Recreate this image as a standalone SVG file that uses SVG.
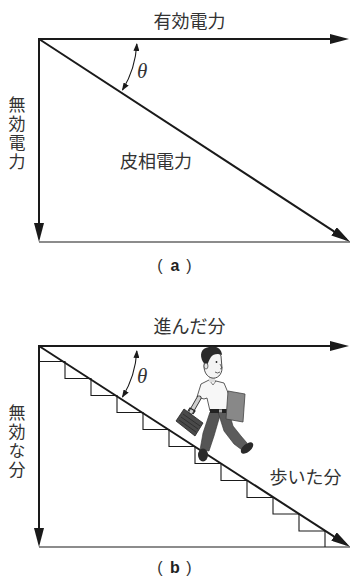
<svg xmlns="http://www.w3.org/2000/svg" width="351" height="577" viewBox="0 0 351 577">
  <style>
    .ln { stroke: #1a1a1a; stroke-width: 2; fill: none; }
    .thin { stroke: #1a1a1a; stroke-width: 1.1; fill: none; }
    .arc { stroke: #1a1a1a; stroke-width: 1.1; fill: none; }
    .jp { font-family: "Noto Sans CJK JP", "Noto Sans", sans-serif; font-size: 18px; fill: #333; }
    .jpv { font-family: "Noto Sans CJK JP", "Noto Sans", sans-serif; font-size: 17px; fill: #333; writing-mode: vertical-rl; letter-spacing: 2px; }
    .th { font-family: "Liberation Serif", serif; font-style: italic; font-size: 21px; fill: #333; }
    .par { font-family: "Liberation Sans", sans-serif; font-size: 16px; fill: #333; }
    .capb { font-family: "Liberation Sans", sans-serif; font-weight: bold; font-size: 16px; fill: #222; }
  </style>
  <defs>
    <marker id="ah" markerUnits="userSpaceOnUse" markerWidth="20" markerHeight="10" refX="15" refY="5" orient="auto">
      <path d="M0,0 L19,5 L0,10 Z" fill="#1a1a1a"/>
    </marker>
    <marker id="ahs" markerUnits="userSpaceOnUse" markerWidth="9" markerHeight="6" refX="7" refY="3" orient="auto-start-reverse">
      <path d="M0,0 L8,3 L0,6 Z" fill="#1a1a1a"/>
    </marker>
  </defs>

  <!-- panel (a): power triangle -->
  <g id="panel-a">
    <g id="a-connectors">
      <line class="ln" x1="39" y1="39" x2="345" y2="39" marker-end="url(#ah)"/>
      <line class="ln" x1="39" y1="38" x2="39" y2="238" marker-end="url(#ah)"/>
      <line class="ln" x1="39" y1="39" x2="346.6" y2="239.6" marker-end="url(#ah)"/>
      <line class="thin" x1="39" y1="242" x2="350" y2="242"/>
      <path class="arc" d="M136.8,44 A98,98 0 0 1 122.5,90" marker-start="url(#ahs)" marker-end="url(#ahs)"/>
    </g>
    <g id="a-active"><text class="jp" x="189.5" y="28" text-anchor="middle">有効電力</text></g>
    <g id="a-reactive"><text class="jpv" x="17" y="96">無効電力</text></g>
    <g id="a-apparent"><text class="jp" x="156" y="168" text-anchor="middle">皮相電力</text></g>
    <g id="a-theta"><text class="th" x="137" y="78">θ</text></g>
    <g id="a-caption">
      <text class="par" x="160" y="271" text-anchor="middle">(</text>
      <text class="capb" x="175" y="271" text-anchor="middle">a</text>
      <text class="par" x="189" y="271" text-anchor="middle">)</text>
    </g>
  </g>

  <!-- panel (b): walking down a staircase -->
  <g id="panel-b">
    <g id="stairs">
      <path class="thin" d="M39,361.5 H65 V378.5 H91 V395.5 H117 V412.5 H143 V429.5 H169 V446.5 H195 V463.5 H221 V480.5 H247 V497.5 H273 V514 H299 V531 H325 V547"/>
    </g>
    <g id="b-connectors">
      <line class="ln" x1="39" y1="346" x2="345" y2="346" marker-end="url(#ah)"/>
      <line class="ln" x1="39" y1="345" x2="39" y2="543" marker-end="url(#ah)"/>
      <line class="ln" x1="39" y1="346" x2="346.6" y2="544.6" marker-end="url(#ah)"/>
      <line class="thin" x1="39" y1="547" x2="350" y2="547"/>
      <path class="arc" d="M136.8,351 A98,98 0 0 1 122.5,397" marker-start="url(#ahs)" marker-end="url(#ahs)"/>
    </g>

    <!-- walking man -->
    <g id="walker">
      <!-- back leg -->
      <path d="M210,412 L221,412 L214,436 L209,451 L200,450 L203,433 Z" fill="#555" stroke="#333" stroke-width="0.6"/>
      <ellipse cx="203" cy="455" rx="5" ry="6.5" fill="#2a2a2a"/>
      <!-- front leg -->
      <path d="M218,412 L229,412 L233,426 L241,436 L247,443 L242,450 L234,444 L224,431 Z" fill="#5c5c5c" stroke="#333" stroke-width="0.6"/>
      <ellipse cx="247" cy="448" rx="7.5" ry="4" transform="rotate(-40 247 448)" fill="#2a2a2a"/>
      <!-- shirt -->
      <path d="M201,384 L209,380 L216,381 L224,383 L229,395 L229,411 L210,411 L207,398 L204,399 L197,397 Z" fill="#f7f7f7" stroke="#333" stroke-width="0.8"/>
      <path d="M210,381 L213,385 L216,381" fill="none" stroke="#333" stroke-width="0.6"/>
      <!-- belt -->
      <path d="M210,409 L229,409 L229,413 L210,413 Z" fill="#222"/>
      <rect x="219" y="409.5" width="3" height="3" fill="#aaa"/>
      <!-- arm with briefcase -->
      <path d="M199,398 L191,412" stroke="#333" stroke-width="5" stroke-linecap="round"/>
      <path d="M199,398 L191,412" stroke="#cfcfcf" stroke-width="3.4" stroke-linecap="round"/>
      <path d="M176,421 L184,409 L203,423 L195,436 Z" fill="#4a4a4a" stroke="#222" stroke-width="0.8"/>
      <path d="M179,420 L196,432 M181,417 L198,429 M183,414 L200,426" stroke="#2a2a2a" stroke-width="0.8"/>
      <path d="M188,411 L190,408 L195,411 L193,414" fill="none" stroke="#222" stroke-width="1.2"/>
      <!-- folder under the other arm -->
      <path d="M228,391 L245,394 L243,422 L226,419 Z" fill="#888" stroke="#444" stroke-width="0.8"/>
      <!-- head -->
      <rect x="209" y="374" width="6" height="8" fill="#ddd"/>
      <path d="M205,356 C205,350 219,349 221,356 L222,368 C222,375 217,379 212,378 C207,377 204,372 204,366 Z" fill="#f4f4f4" stroke="#222" stroke-width="0.8"/>
      <path d="M203,362 C199,355 201,348 209,347 C215,345 222,348 222,355 C218,353 213,354 211,357 C209,360 208,363 207,366 Z" fill="#2a2a2a"/>
      <ellipse cx="206" cy="366" rx="2" ry="3" fill="#e6e6e6" stroke="#222" stroke-width="0.6"/>
      <circle cx="216.5" cy="362" r="0.9" fill="#222"/>
      <path d="M220,364 L222,368 L220,369" fill="none" stroke="#222" stroke-width="0.6"/>
      <path d="M215,372 Q217.5,374 220,372" fill="none" stroke="#222" stroke-width="0.7"/>
    </g>

    <g id="b-forward"><text class="jp" x="189.5" y="333" text-anchor="middle">進んだ分</text></g>
    <g id="b-wasted"><text class="jpv" x="17" y="404">無効な分</text></g>
    <g id="b-walked"><text class="jp" x="305.5" y="484" text-anchor="middle">歩いた分</text></g>
    <g id="b-theta"><text class="th" x="137" y="383">θ</text></g>
    <g id="b-caption">
      <text class="par" x="160" y="573" text-anchor="middle">(</text>
      <text class="capb" x="175" y="573" text-anchor="middle">b</text>
      <text class="par" x="189" y="573" text-anchor="middle">)</text>
    </g>
  </g>
</svg>
